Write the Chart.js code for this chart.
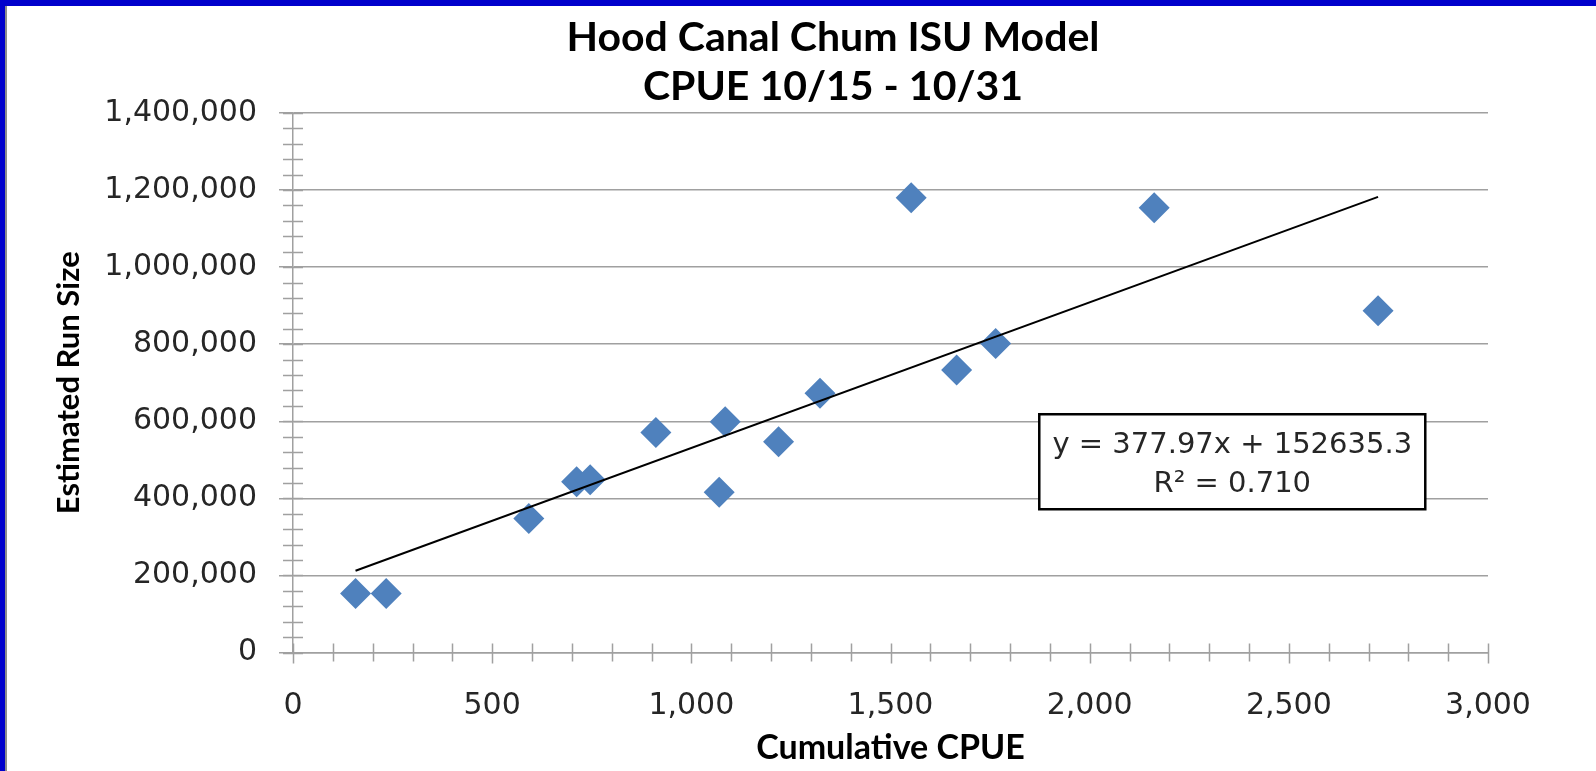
<!DOCTYPE html>
<html><head><meta charset="utf-8">
<script src="https://cdn.jsdelivr.net/npm/chart.js@4.4.1/dist/chart.umd.min.js"></script>
<style>
html,body{margin:0;padding:0;background:#fff;overflow:hidden;width:1596px;height:771px;}
#wrap{position:absolute;left:0;top:0;width:1596px;height:771px;}
#bt{position:absolute;left:0;top:0;width:1596px;height:6px;background:#0000cc;}
#bl{position:absolute;left:0;top:0;width:5px;height:771px;background:#0000cc;}
#bg{position:absolute;left:5px;top:6px;width:2px;height:765px;background:#8c8c8c;}
</style></head><body>
<div id="wrap"><canvas id="c" width="1596" height="771"></canvas></div>
<div id="bt"></div><div id="bl"></div><div id="bg"></div>
<script>
// ---- data ----
const titleLines = ['Hood Canal Chum ISU Model', 'CPUE 10/15 - 10/31'];
const xAxisTitle = 'Cumulative CPUE';
const yAxisTitle = 'Estimated Run Size';
const cumulativeCPUE   = [157, 234, 592, 712, 746, 911, 1070, 1085, 1219, 1323, 1552, 1666, 1764, 2162, 2724];
const estimatedRunSize = [153000, 153000, 348000, 443000, 448000, 571000, 416000, 599000, 547000, 673000, 1180000, 733000, 802000, 1154000, 887000];
const xTickValues = [0, 500, 1000, 1500, 2000, 2500, 3000];
const yTickValues = [0, 200000, 400000, 600000, 800000, 1000000, 1200000, 1400000];
const xMinorStep = 100;
const yMinorStep = 40000;
const trendSlope = 377.97;
const trendIntercept = 152635.3;
const equationLines = ['y = 377.97x + 152635.3', 'R\u00b2 = 0.710'];
const equationAnchor = {x: 2358, y: 495000};

// ---- build ----
const points = cumulativeCPUE.map((x, i) => ({x: x, y: estimatedRunSize[i]}));
const xMin = Math.min(...cumulativeCPUE), xMax = Math.max(...cumulativeCPUE);
const trend = [xMin, xMax].map(x => ({x: x, y: trendSlope * x + trendIntercept}));

const AXIS_GRAY = '#a0a0a0';
const TEXT = '#262626';

const minorTicks = {
  id: 'minorTicks',
  beforeDatasetsDraw(chart) {
    const {ctx, chartArea, scales} = chart;
    const x = scales.x, y = scales.y;
    ctx.save();
    ctx.strokeStyle = AXIS_GRAY;
    ctx.lineWidth = 1.5;
    ctx.beginPath();
    for (let v = x.min; v <= x.max; v += xMinorStep) {
      const px = Math.round(x.getPixelForValue(v)) + 0.5;
      const major = xTickValues.includes(v);
      ctx.moveTo(px, chartArea.bottom - 9);
      ctx.lineTo(px, chartArea.bottom + (major ? 11 : 9));
    }
    for (let v = y.min; v <= y.max; v += yMinorStep) {
      const py = Math.round(y.getPixelForValue(v)) + 0.5;
      ctx.moveTo(chartArea.left - 10, py);
      ctx.lineTo(chartArea.left + 10, py);
    }
    ctx.stroke();
    ctx.restore();
  }
};

const equationBox = {
  id: 'equationBox',
  afterDatasetsDraw(chart) {
    const {ctx, scales} = chart;
    const cx = scales.x.getPixelForValue(equationAnchor.x);
    const cy = scales.y.getPixelForValue(equationAnchor.y);
    const w = 386, h = 95;
    ctx.save();
    ctx.fillStyle = '#ffffff';
    ctx.fillRect(cx - w / 2, cy - h / 2, w, h);
    ctx.strokeStyle = '#000000';
    ctx.lineWidth = 2.5;
    ctx.strokeRect(cx - w / 2, cy - h / 2, w, h);
    ctx.fillStyle = TEXT;
    ctx.font = '29px "DejaVu Sans"';
    ctx.textAlign = 'center';
    ctx.textBaseline = 'middle';
    ctx.fillText(equationLines[0], cx, cy - 16);
    ctx.fillText(equationLines[1], cx, cy + 23);
    ctx.restore();
  }
};

new Chart(document.getElementById('c'), {
  type: 'scatter',
  data: {
    datasets: [
      {
        label: 'Estimated Run Size',
        data: points,
        pointStyle: 'rectRot',
        pointRadius: 15.5,
        pointHoverRadius: 15.5,
        backgroundColor: '#4f81bd',
        borderColor: '#4f81bd',
        borderWidth: 0,
        order: 1
      },
      {
        label: 'Linear trend',
        data: trend,
        showLine: true,
        borderColor: '#000000',
        borderWidth: 2,
        pointRadius: 0,
        pointHoverRadius: 0,
        fill: false,
        order: 0
      }
    ]
  },
  options: {
    responsive: false,
    animation: false,
    devicePixelRatio: 1,
    layout: {padding: {left: 70, right: 0, top: 0, bottom: 0}},
    plugins: {
      legend: {display: false},
      tooltip: {enabled: false},
      title: {
        display: true,
        text: titleLines,
        color: '#000000',
        font: {family: 'Lato', weight: 'bold', size: 41, lineHeight: 1.2},
        padding: {top: 13.1, bottom: 1.5}
      }
    },
    scales: {
      x: {
        type: 'linear',
        position: 'bottom',
        min: 0,
        max: 3000,
        afterBuildTicks: s => { s.ticks = xTickValues.map(v => ({value: v})); },
        ticks: {
          callback: v => Number(v).toLocaleString('en-US'),
          font: {family: 'DejaVu Sans', size: 30, lineHeight: 1.2},
          color: TEXT,
          padding: 27.5,
          maxRotation: 0,
          autoSkip: false
        },
        grid: {display: false},
        border: {display: true, color: AXIS_GRAY, width: 1.5},
        title: {
          display: true,
          text: xAxisTitle,
          color: '#000000',
          font: {family: 'Lato', weight: 'bold', size: 34, lineHeight: 1.2},
          padding: {top: 0, bottom: 2.6}
        },
        afterFit: s => { s.height = 118.5; }
      },
      y: {
        type: 'linear',
        position: 'left',
        min: 0,
        max: 1400000,
        afterBuildTicks: s => { s.ticks = yTickValues.map(v => ({value: v})); },
        ticks: {
          callback: v => Number(v).toLocaleString('en-US'),
          font: {family: 'DejaVu Sans', size: 30},
          color: TEXT,
          padding: 22,
          autoSkip: false
        },
        grid: {color: AXIS_GRAY, lineWidth: 1.5, drawTicks: true, tickLength: 14},
        border: {display: true, color: AXIS_GRAY, width: 1.5},
        title: {
          display: true,
          text: yAxisTitle,
          color: '#000000',
          font: {family: 'Lato', weight: 'bold', size: 31, lineHeight: 1.2},
          padding: {top: -20, bottom: 0}
        },
        afterFit: s => { s.width = 223; }
      },
      yRight: {
        type: 'linear',
        position: 'right',
        display: true,
        grid: {display: false},
        border: {display: false},
        ticks: {display: false},
        title: {display: false},
        afterFit: s => { s.width = 108; }
      }
    }
  },
  plugins: [minorTicks, equationBox]
});
</script>
</body></html>
